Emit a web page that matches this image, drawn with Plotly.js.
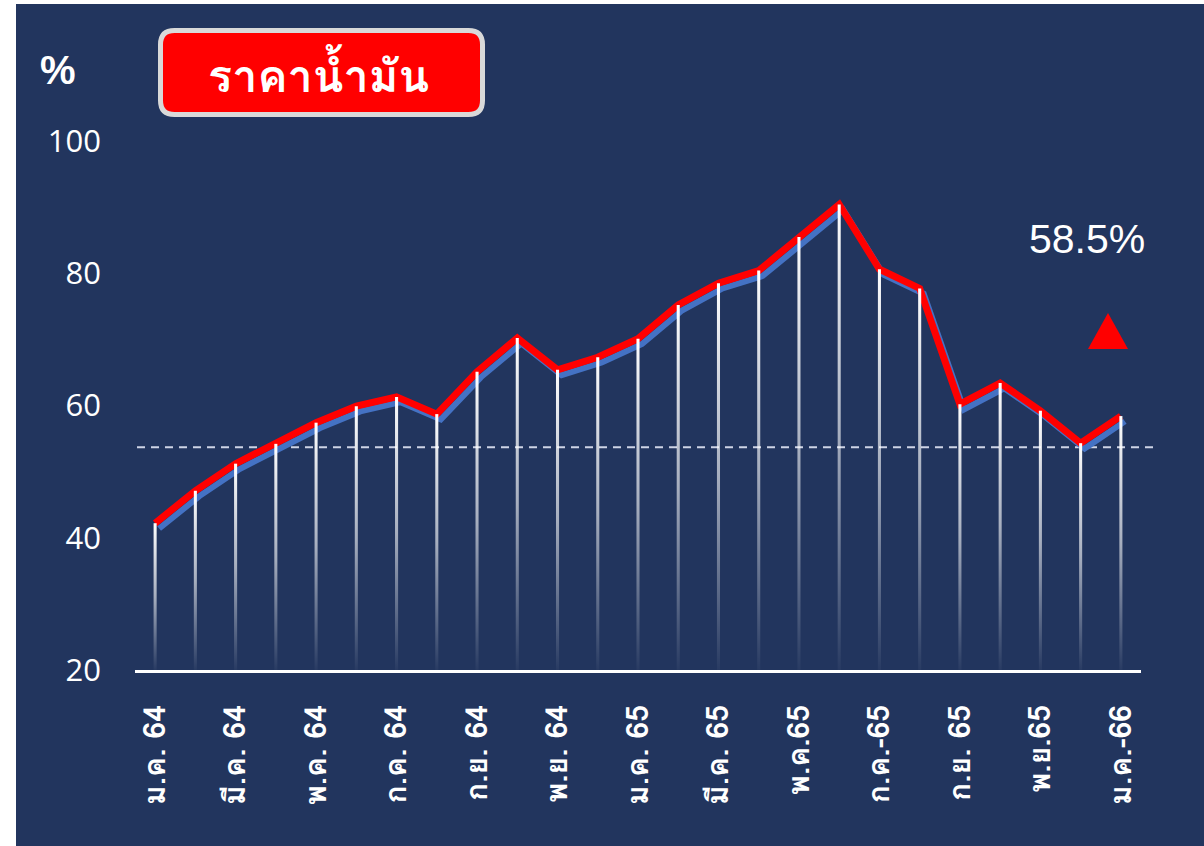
<!DOCTYPE html>
<html>
<head>
<meta charset="utf-8">
<script src="https://cdn.plot.ly/plotly-3.0.1.min.js"></script>
<style>
  html, body { margin: 0; padding: 0; background: #ffffff; }
  #chart { position: absolute; left: 16px; top: 4px; width: 1188px; height: 842px; }
</style>
</head>
<body>
<div id="chart"></div>
<script>
// ---- data ----
const months = ["ม.ค. 64","ก.พ. 64","มี.ค. 64","เม.ย. 64","พ.ค. 64","มิ.ย. 64","ก.ค. 64","ส.ค. 64",
  "ก.ย. 64","ต.ค. 64","พ.ย. 64","ธ.ค. 64","ม.ค. 65","ก.พ. 65","มี.ค. 65","เม.ย. 65","พ.ค.65",
  "มิ.ย. 65","ก.ค.-65","ส.ค. 65","ก.ย. 65","ต.ค. 65","พ.ย.65","ธ.ค. 65","ม.ค.-66"];
const oilIndex = [42.2, 47.1, 51.2, 54.2, 57.4, 59.9, 61.3, 58.7, 65.1, 70.2, 65.4, 67.3, 70.1,
  75.2, 78.5, 80.4, 85.5, 90.4, 80.6, 77.7, 60.2, 63.4, 59.2, 54.3, 58.4];
const tickLabels = ["ม.ค. 64","มี.ค. 64","พ.ค. 64","ก.ค. 64","ก.ย. 64","พ.ย. 64","ม.ค. 65",
  "มี.ค. 65","พ.ค.65","ก.ค.-65","ก.ย. 65","พ.ย.65","ม.ค.-66"];
const yTicks = [20, 40, 60, 80, 100];
const referenceLevel = 53.7;
const latestChange = "58.5%";
const titleText = "ราคาน้ำมัน";
const unitText = "%";

// ---- helpers (page pixel -> paper) ----
const PL = 135, PR = 1141, PT = 141, PB = 670;
const px = X => (X - PL) / (PR - PL);
const py = Y => (PB - Y) / (PB - PT);

const idx = months.map((_, i) => i);
const tickIdx = tickLabels.map(t => months.indexOf(t));

const thaiFont = "Loma, Garuda, 'Noto Sans Thai Looped', 'Noto Looped Thai', Tahoma, 'Noto Sans Thai', sans-serif";

const traces = [];
// blue shadow line (offset axes)
traces.push({
  x: idx, y: oilIndex, xaxis: 'x2', yaxis: 'y2', type: 'scatter', mode: 'lines',
  line: { color: '#4472C4', width: 6 }, hoverinfo: 'skip', showlegend: false
});
// red main line
traces.push({
  x: idx, y: oilIndex, xaxis: 'x3', yaxis: 'y3', type: 'scatter', mode: 'lines',
  line: { color: '#FF0000', width: 7 }, showlegend: false
});
// white drop lines with vertical fade
const hw = 0.038;
oilIndex.forEach((v, i) => {
  traces.push({
    x: [i - hw, i + hw, i + hw, i - hw, i - hw],
    y: [20, 20, v, v, 20],
    xaxis: 'x3', yaxis: 'y3',
    type: 'scatter', mode: 'lines', fill: 'toself',
    line: { width: 0, color: 'rgba(0,0,0,0)' },
    fillgradient: {
      type: 'vertical',
      colorscale: [[0, 'rgba(255,255,255,0.03)'], [0.5, 'rgba(255,255,255,0.6)'], [1, 'rgba(255,255,255,1)']]
    },
    hoverinfo: 'skip', showlegend: false
  });
});

// rounded rectangle path in paper coords
function roundRect(x0, y0, x1, y1, r) {
  const P = (X, Y) => px(X).toFixed(5) + ',' + py(Y).toFixed(5);
  return 'M' + P(x0 + r, y0) + ' L' + P(x1 - r, y0) + ' Q' + P(x1, y0) + ' ' + P(x1, y0 + r) +
    ' L' + P(x1, y1 - r) + ' Q' + P(x1, y1) + ' ' + P(x1 - r, y1) +
    ' L' + P(x0 + r, y1) + ' Q' + P(x0, y1) + ' ' + P(x0, y1 - r) +
    ' L' + P(x0, y0 + r) + ' Q' + P(x0, y0) + ' ' + P(x0 + r, y0) + ' Z';
}
function tri(cx, top, bottom, half) {
  return 'M' + px(cx) + ',' + py(top) + ' L' + px(cx + half) + ',' + py(bottom) +
    ' L' + px(cx - half) + ',' + py(bottom) + ' Z';
}

const hidden = { visible: false, fixedrange: true, showgrid: false, zeroline: false };

const layout = {
  width: 1188, height: 842,
  margin: { l: 119, r: 63, t: 137, b: 176 },
  paper_bgcolor: '#22355E', plot_bgcolor: 'rgba(0,0,0,0)',
  showlegend: false,
  xaxis: {
    type: 'linear', range: [-0.5, 24.5], fixedrange: true,
    tickvals: tickIdx, ticktext: tickLabels, tickangle: -90,
    tickfont: { family: thaiFont, size: 30, color: '#FFFFFF', weight: 'bold' },
    showgrid: false, zeroline: false,
    showline: true, linecolor: '#FFFFFF', linewidth: 3,
    ticks: '', ticklabelstandoff: 20
  },
  yaxis: {
    range: [20, 100], fixedrange: true, tickvals: yTicks,
    tickfont: { family: "'Open Sans', sans-serif", size: 31, color: '#FFFFFF' },
    showgrid: false, zeroline: false, showline: false, ticks: '', ticklabelstandoff: 33
  },
  xaxis2: Object.assign({ overlaying: 'x', range: [-0.5 - 0.1, 24.5 - 0.1] }, hidden),
  yaxis2: Object.assign({ overlaying: 'y', range: [20 + 0.8, 100 + 0.8] }, hidden),
  xaxis3: Object.assign({ overlaying: 'x', range: [-0.5, 24.5] }, hidden),
  yaxis3: Object.assign({ overlaying: 'y', range: [20, 100] }, hidden),
  shapes: [
    { type: 'line', xref: 'paper', yref: 'y', x0: px(137), x1: px(1153), y0: referenceLevel, y1: referenceLevel,
      line: { color: 'rgba(225,230,245,0.9)', width: 2, dash: '8px,6px' }, layer: 'below' },
    { type: 'path', xref: 'paper', yref: 'paper', path: roundRect(160.5, 30.5, 482.5, 114.5, 14),
      fillcolor: '#FF0000', line: { color: '#D9D9D9', width: 5 } },
    { type: 'path', xref: 'paper', yref: 'paper', path: tri(1108, 313, 349, 20),
      fillcolor: '#FF0000', line: { width: 0 } }
  ],
  annotations: [
    { xref: 'paper', yref: 'paper', x: px(58), y: py(70), text: unitText, showarrow: false,
      xanchor: 'center', yanchor: 'middle',
      font: { family: "'Liberation Sans', Arial, sans-serif", size: 40, color: '#FFFFFF', weight: 'bold' } },
    { xref: 'paper', yref: 'paper', x: px(318), y: py(76), text: titleText, showarrow: false,
      xanchor: 'center', yanchor: 'middle',
      font: { family: thaiFont, size: 45, color: '#FFFFFF', weight: 'bold' } },
    { xref: 'paper', yref: 'paper', x: px(1087), y: py(239), text: latestChange, showarrow: false,
      xanchor: 'center', yanchor: 'middle',
      font: { family: "'Liberation Sans', Arial, sans-serif", size: 41, color: '#FFFFFF' } }
  ]
};

Plotly.newPlot('chart', traces, layout, { staticPlot: true, displayModeBar: false });
</script>
</body>
</html>
